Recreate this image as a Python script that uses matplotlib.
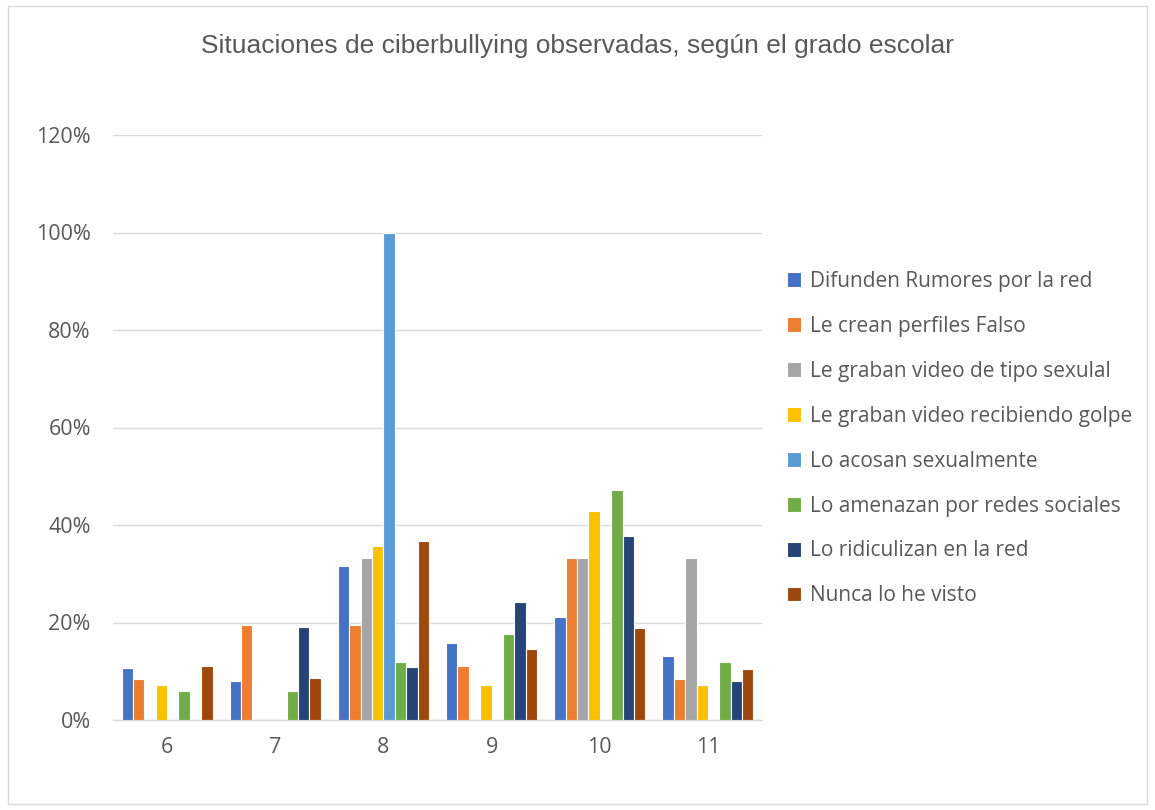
import numpy as np
import matplotlib.pyplot as plt
from matplotlib.patches import Rectangle
from matplotlib.ticker import PercentFormatter

# grados escolares
grades = ['6', '7', '8', '9', '10', '11']

series_names = [
    'Difunden Rumores por la red',
    'Le crean perfiles Falso',
    'Le graban video de tipo sexulal',
    'Le graban video recibiendo golpe',
    'Lo acosan sexualmente',
    'Lo amenazan por redes sociales',
    'Lo ridiculizan en la red',
    'Nunca lo he visto',
]

difunden = [0.107, 0.080, 0.316, 0.158, 0.211, 0.132]
perfiles = [0.084, 0.195, 0.195, 0.111, 0.333, 0.084]
video_sexual = [0, 0, 0.333, 0, 0.333, 0.333]
video_golpe = [0.072, 0, 0.357, 0.071, 0.429, 0.071]
acosan = [0, 0, 1.0, 0, 0, 0]
amenazan = [0.060, 0.060, 0.118, 0.176, 0.471, 0.118]
ridiculizan = [0, 0.190, 0.109, 0.243, 0.378, 0.081]
nunca = [0.111, 0.086, 0.367, 0.146, 0.189, 0.104]

all_series = [difunden, perfiles, video_sexual, video_golpe,
              acosan, amenazan, ridiculizan, nunca]

colors = ['#4472C4', '#ED7D31', '#A5A5A5', '#FFC000',
          '#5B9BD5', '#70AD47', '#264478', '#9E480E']

fig = plt.figure(figsize=(11.55, 8.1), dpi=100)
ax = fig.add_axes([113 / 1155, 1 - 720 / 810, 649 / 1155, 585 / 810])

# border around the whole chart
fig.patches.append(Rectangle((8 / 1155, 6 / 810), 1139 / 1155, 798 / 810,
                             transform=fig.transFigure, fill=False,
                             edgecolor='#d9d9d9', linewidth=1))

x = np.arange(len(grades))
n = len(all_series)
slot = 1 / (n + 1.5)
for i, vals in enumerate(all_series):
    offs = (i - (n - 1) / 2) * slot
    ax.bar(x + offs, vals, width=slot, color=colors[i], edgecolor='white',
           linewidth=0.8, label=series_names[i], zorder=3)

ax.set_xlim(-0.5, len(grades) - 0.5)
ax.set_ylim(0, 1.2)
ax.set_yticks(np.arange(0, 1.21, 0.2))
ax.yaxis.set_major_formatter(PercentFormatter(1.0, decimals=0))
ax.set_xticks(x)
ax.set_xticklabels(grades)
ax.grid(axis='y', color='#d9d9d9', linewidth=1, zorder=0)
for s in ['top', 'right', 'left']:
    ax.spines[s].set_visible(False)
ax.spines['bottom'].set_color('#d9d9d9')
ax.spines['bottom'].set_linewidth(1)
ax.tick_params(axis='both', length=0, labelsize=15.5, labelcolor='#595959')
ax.tick_params(axis='y', pad=16)
ax.tick_params(axis='x', pad=12)
for lbl in ax.get_xticklabels() + ax.get_yticklabels():
    lbl.set_fontfamily('Open Sans')

fig.text(0.5, 1 - 46 / 810, 'Situaciones de ciberbullying observadas, según el grado escolar',
         ha='center', va='center', fontsize=19, color='#595959',
         family='Liberation Sans')

leg = fig.legend(loc='upper left', bbox_to_anchor=(768 / 1155, 1 - 252 / 810),
                 frameon=False, handlelength=0.7, handleheight=0.7,
                 handletextpad=0.4, labelspacing=1.15,
                 prop={'family': 'Open Sans', 'size': 15})
for t in leg.get_texts():
    t.set_color('#595959')

fig.savefig('out.png', dpi=100)
